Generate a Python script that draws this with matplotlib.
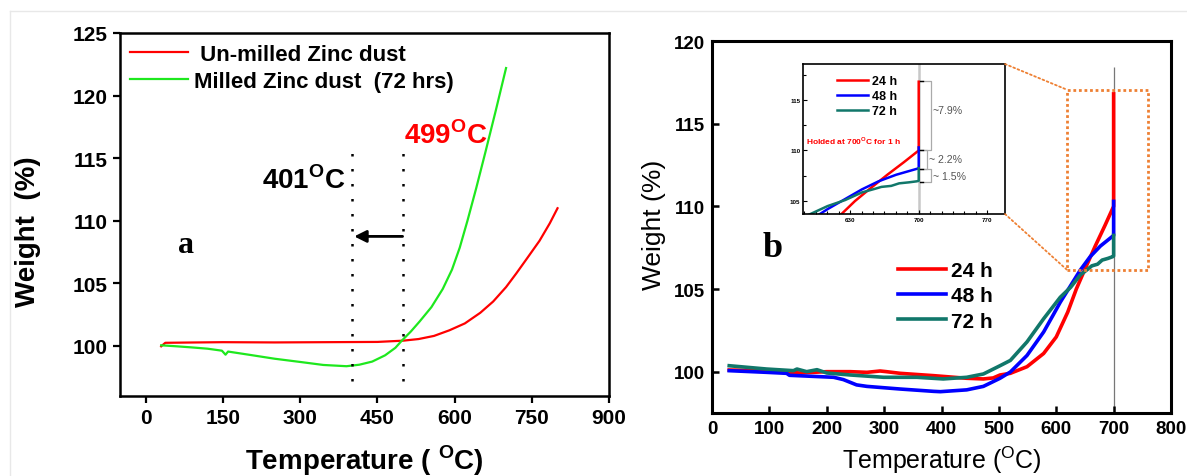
import matplotlib
matplotlib.use('Agg')
import matplotlib.pyplot as plt
from matplotlib.patches import Rectangle, ConnectionPatch
from matplotlib.lines import Line2D

plt.rcParams['font.family'] = ['Liberation Sans', 'DejaVu Sans']
plt.rcParams['mathtext.fontset'] = 'custom'
plt.rcParams['mathtext.rm'] = 'Liberation Sans:bold'
plt.rcParams['mathtext.sf'] = 'Liberation Sans'

# ---------------- data: panel a ----------------
temp_unmilled = [30, 38, 80, 150, 250, 350, 450, 500, 530, 560, 590, 620, 650,
                 675, 700, 720, 740, 765, 785, 800]
weight_unmilled = [99.97, 100.25, 100.27, 100.3, 100.28, 100.3, 100.32, 100.42,
                   100.55, 100.8, 101.25, 101.8, 102.65, 103.55, 104.7, 105.8,
                   106.95, 108.4, 109.8, 111.0]
temp_milled = [30, 60, 90, 120, 148, 155, 160, 200, 250, 300, 345, 390, 415, 440,
               465, 485, 497, 515, 532, 555, 577, 595, 610, 625, 642, 660, 680, 700]
weight_milled = [100.05, 99.97, 99.88, 99.78, 99.62, 99.3, 99.55, 99.3, 98.98,
                 98.72, 98.48, 98.38, 98.5, 98.75, 99.25, 99.85, 100.4, 101.15,
                 101.95, 103.1, 104.55, 106.1, 107.85, 110.0, 112.6, 115.5, 118.8, 122.2]
onset_temps = [401, 499]
labels_a = [' Un-milled Zinc dust', 'Milled Zinc dust  (72 hrs)']

# ---------------- data: panel b ----------------
temp_24 = [30, 95, 136, 153, 200, 241, 270, 293, 304, 328, 386, 444, 473, 490,
           502, 520, 549, 578, 600, 620, 635, 650, 668, 685, 700, 700]
weight_24 = [100.1, 100.06, 99.96, 99.92, 100.0, 100.0, 99.96, 100.04, 100.0,
             99.9, 99.76, 99.6, 99.56, 99.62, 99.8, 99.9, 100.3, 101.1, 102.1,
             103.6, 105.0, 106.2, 107.6, 108.85, 110.0, 116.8]
temp_48 = [30, 95, 130, 135, 212, 229, 252, 270, 328, 386, 398, 444, 473, 502,
           520, 549, 578, 595, 607, 625, 642, 659, 677, 700, 700]
weight_48 = [100.06, 99.96, 99.9, 99.78, 99.66, 99.52, 99.2, 99.11, 98.95, 98.81,
             98.79, 98.9, 99.11, 99.6, 99.98, 100.98, 102.4, 103.45, 104.2, 105.2,
             106.15, 106.95, 107.6, 108.24, 110.3]
temp_72 = [30, 95, 142, 148, 165, 183, 200, 241, 299, 357, 403, 444, 473, 502,
           520, 549, 578, 607, 625, 642, 655, 662, 672, 680, 690, 698, 700, 700]
weight_72 = [100.36, 100.16, 100.06, 100.16, 100.0, 100.12, 99.92, 99.8, 99.66,
             99.66, 99.56, 99.66, 99.86, 100.36, 100.68, 101.8, 103.2, 104.5,
             105.1, 105.85, 106.2, 106.4, 106.5, 106.75, 106.85, 106.95, 107.0, 108.24]
labels_b = ['24 h', '48 h', '72 h']
gain_text = ['~7.9%', '~ 2.2%', '~ 1.5%']
gain_levels = [116.9, 110.0, 108.2, 106.9]

RED, GREEN, BLUE, TEAL, ORANGE = '#FF0000', '#1EE81E', '#0000FF', '#11776A', '#EE8033'

W, H = 1187, 477
fig = plt.figure(figsize=(W / 100, H / 100), dpi=100)


def fx(px):
    return px / W


def fy(py):
    return 1 - py / H


# faint frame of original picture
fig.add_artist(Line2D([fx(10), 1], [fy(12), fy(12)], color='#e8e8e8', lw=1))
fig.add_artist(Line2D([fx(10), fx(10)], [fy(12), 0], color='#e8e8e8', lw=1))

# ================= panel a =================
axa = fig.add_axes([fx(120), fy(397), 489 / W, 363 / H])
la1, = axa.plot(temp_unmilled, weight_unmilled, color=RED, lw=1.6)
la2, = axa.plot(temp_milled, weight_milled, color=GREEN, lw=1.6)
axa.set_xlim(-50, 900)
axa.set_ylim(96, 125)
axa.set_xticks(range(0, 901, 150))
axa.set_yticks(range(100, 126, 5))
axa.tick_params(direction='out', length=5, width=1.6, labelsize=15, pad=4)
for lab in axa.get_xticklabels() + axa.get_yticklabels():
    lab.set_fontweight('bold')
for s in axa.spines.values():
    s.set_linewidth(1.8)

axa.vlines(onset_temps, 97.2, 116.0, colors='k', linestyles=(0, (1, 5)), lw=1.8)
axa.annotate('', xy=(onset_temps[0] + 4, 108.75), xytext=(onset_temps[1], 108.75),
             arrowprops=dict(arrowstyle='-|>', color='k', lw=2, mutation_scale=18,
                             shrinkA=0, shrinkB=0))
axa.text(388, 113.3, r'401$^{\rm O}$C', fontsize=20, fontweight='bold',
         ha='right', va='center')
axa.text(502, 116.9, r'499$^{\rm O}$C', fontsize=20, fontweight='bold',
         color=RED, ha='left', va='center')
axa.text(79, 108.1, 'a', family='Liberation Serif', fontsize=23,
         fontweight='bold', ha='center', va='center')
axa.legend([la1, la2], labels_a, loc='upper left', frameon=False,
           bbox_to_anchor=(fx(130), fy(45)), bbox_transform=fig.transFigure,
           borderpad=0, borderaxespad=0, handlelength=2.6, handletextpad=0.27,
           labelspacing=0.27, prop={'size': 16, 'weight': 'bold'})

fig.text(fx(28), fy(232), 'Weight  (%)', rotation=90, fontsize=20,
         fontweight='bold', ha='center', va='center')
fig.text(fx(364), fy(470), r'Temperature ( $^{\rm O}$C)', fontsize=20,
         fontweight='bold', ha='center', va='baseline')

# ================= panel b =================
axb = fig.add_axes([fx(712), fy(414), 459 / W, 372 / H])
axb.vlines(700, 97.5, 118.4, colors='#777777', lw=0.9, zorder=1)
series = [(temp_24, weight_24, RED), (temp_48, weight_48, BLUE), (temp_72, weight_72, TEAL)]
handles = []
for t, w, c in series:
    h, = axb.plot(t, w, color=c, lw=2.6, zorder=2)
    handles.append(h)
axb.set_xlim(0, 800)
axb.set_ylim(97.5, 120)
axb.set_xticks(range(0, 801, 100))
axb.set_yticks(range(100, 121, 5))
axb.tick_params(direction='in', length=5, width=1.8, labelsize=13.5, pad=5)
for lab in axb.get_xticklabels() + axb.get_yticklabels():
    lab.set_fontweight('bold')
for s in axb.spines.values():
    s.set_linewidth(2.2)

axb.text(105, 107.5, 'b', family='Liberation Serif', fontsize=26,
         fontweight='bold', ha='center', va='center')
axb.legend(handles, labels_b, loc='upper left', frameon=False,
           bbox_to_anchor=(fx(898), fy(262)), bbox_transform=fig.transFigure,
           borderpad=0, borderaxespad=0, handlelength=2.3, handletextpad=0.25,
           labelspacing=0.3, prop={'size': 15, 'weight': 'bold'})

rect = Rectangle((619, 106.15), 141, 10.9, fill=False, ec=ORANGE, lw=2,
                 ls=(0, (1, 1)), zorder=3)
axb.add_patch(rect)

fig.text(fx(654), fy(225), 'Weight (%)', rotation=90, fontsize=19,
         ha='center', va='center')
fig.text(fx(942), fy(469), r'Temperature ($^{\mathsf{O}}$C)', fontsize=18,
         ha='center', va='baseline')

# ================= inset =================
axi = fig.add_axes([fx(803), fy(215), 202 / W, 150 / H])
axi.axvline(700, color='#c8c8c8', lw=1.8, zorder=1)
ih = []
for t, w, c in series:
    h, = axi.plot(t, w, color=c, lw=1.8, zorder=2)
    ih.append(h)
axi.set_xlim(582, 788)
axi.set_ylim(103.72, 118.55)
axi.set_xticks([630, 700, 770])
axi.set_xticks([630 + 70 / 6 * k for k in range(-4, 13)], minor=True)
axi.set_yticks([105, 110, 115])
axi.set_yticks([105 + 2.5 * k for k in range(0, 6)], minor=True)
axi.tick_params(which='both', direction='in', labelsize=4.5, pad=2, width=0.8)
axi.tick_params(which='major', length=3)
axi.tick_params(which='minor', length=2)
for lab in axi.get_xticklabels() + axi.get_yticklabels():
    lab.set_fontweight('bold')
for s in axi.spines.values():
    s.set_linewidth(1.2)

axi.legend(ih, labels_b, loc='upper left', frameon=False,
           bbox_to_anchor=(fx(837), fy(76)), bbox_transform=fig.transFigure,
           borderpad=0, borderaxespad=0, handlelength=2.5, handletextpad=0.3,
           labelspacing=0.25, prop={'size': 9, 'weight': 'bold'})
axi.text(585, 111.0, r'Holded at 700$^{\rm O}$C for 1 h', color=RED, fontsize=6,
         fontweight='bold', ha='left', va='center')

# brackets for the mass gain while held at 700 C
bx = [713, 708, 713]
for i in range(3):
    top, bot = gain_levels[i], gain_levels[i + 1]
    axi.plot([701.5, bx[i], bx[i], 701.5], [top, top, bot, bot],
             color='#aaaaaa', lw=0.9, zorder=1)
for lv in gain_levels:
    axi.plot([701, 704], [lv, lv], color='k', lw=1.0, zorder=3)
axi.text(714.5, 114.0, gain_text[0], fontsize=7.6, color='#555555', va='center')
axi.text(711, 109.2, gain_text[1], fontsize=7.6, color='#555555', va='center')
axi.text(714.5, 107.5, gain_text[2], fontsize=7.6, color='#555555', va='center')

# connectors from inset to zoom rectangle
for ya, yb in [(1, 106.15 + 10.9), (0, 106.15)]:
    cp = ConnectionPatch(xyA=(1, ya), coordsA=axi.transAxes, xyB=(619, yb),
                         coordsB=axb.transData, color=ORANGE, lw=1.3,
                         ls=(0, (1, 1.5)))
    fig.add_artist(cp)

fig.savefig('out.png', dpi=100)
